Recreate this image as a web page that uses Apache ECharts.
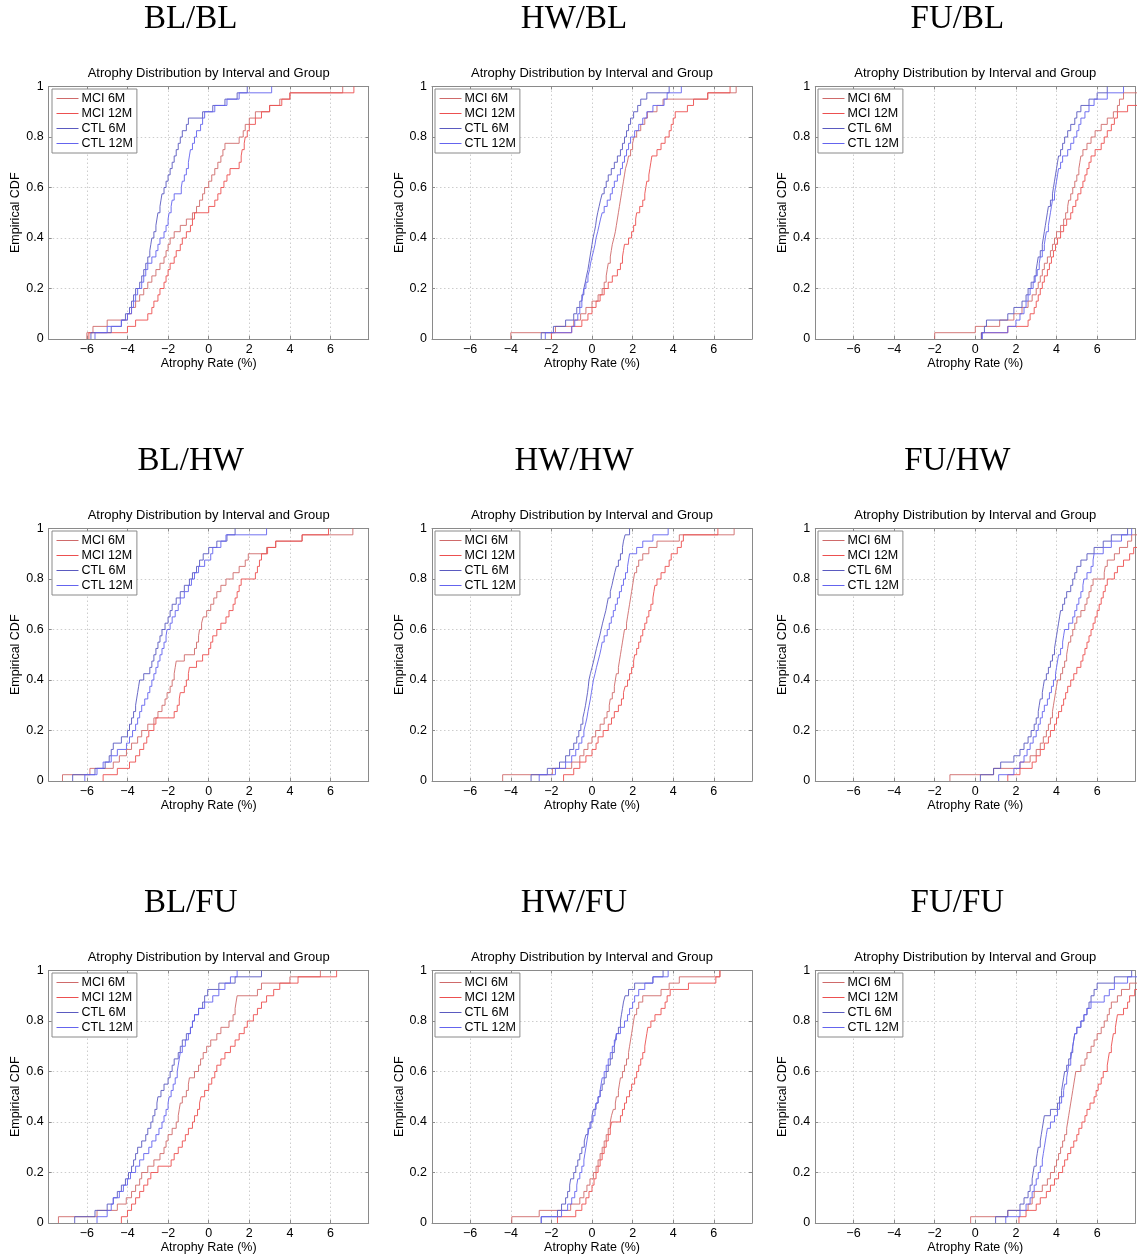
<!DOCTYPE html>
<html>
<head>
<meta charset="utf-8">
<script src="https://cdn.jsdelivr.net/npm/echarts@6/dist/echarts.min.js"></script>
<style>
  html, body { margin: 0; background: #fff; }
  #chart { width: 1139px; height: 1258px; }
</style>
</head>
<body>
<div id="chart"></div>
<script>
const panelTitles = ['BL/BL', 'HW/BL', 'FU/BL', 'BL/HW', 'HW/HW', 'FU/HW', 'BL/FU', 'HW/FU', 'FU/FU']
const seriesNames = ['MCI 6M', 'MCI 12M', 'CTL 6M', 'CTL 12M']
const seriesColors = ['#cf6a6a', '#ec5050', '#5a5ac0', '#6464ee']
const xTicks = [-6, -4, -2, 0, 2, 4, 6]
const xRange = [-7.88, 7.88]

// sorted atrophy rates (%) per group
const blbl_mci6 = [-6.0, -5.7, -5.0, -4.0, -3.8, -3.6, -3.4, -3.2, -3.0, -2.8, -2.6, -2.4, -2.2, -2.1, -2.0, -1.9, -1.7, -1.4, -1.1, -0.8, -0.6, -0.45, -0.3, -0.2, 0.0, 0.15, 0.3, 0.45, 0.6, 0.7, 0.8, 1.5, 1.7, 1.8, 2.0, 2.3, 3.0, 3.5, 4.0, 6.6]
const blbl_mci12 = [-5.9, -4.0, -3.6, -3.0, -2.8, -2.7, -2.5, -2.4, -2.2, -2.1, -2.0, -1.9, -1.7, -1.6, -1.4, -1.3, -1.1, -0.9, -0.8, -0.7, 0.0, 0.3, 0.45, 0.6, 0.75, 0.9, 1.05, 1.5, 1.6, 1.65, 1.75, 1.8, 1.9, 2.0, 2.3, 2.6, 3.0, 3.6, 4.0, 7.15]
const blbl_ctl6 = [-5.8, -4.8, -4.3, -4.1, -3.9, -3.8, -3.7, -3.6, -3.4, -3.3, -3.2, -3.1, -3.0, -2.9, -2.85, -2.8, -2.7, -2.6, -2.55, -2.5, -2.4, -2.35, -2.3, -2.2, -2.1, -2.0, -1.9, -1.8, -1.7, -1.6, -1.5, -1.4, -1.3, -1.1, -1.0, -0.3, 0.2, 0.8, 1.4, 1.9]
const blbl_ctl12 = [-5.6, -5.0, -4.3, -4.0, -3.8, -3.7, -3.6, -3.5, -3.3, -3.2, -3.1, -3.0, -2.8, -2.6, -2.5, -2.4, -2.2, -2.1, -2.0, -1.95, -1.85, -1.8, -1.7, -1.35, -1.3, -1.2, -1.1, -1.0, -0.95, -0.9, -0.8, -0.7, -0.6, -0.4, -0.3, -0.2, 0.3, 0.9, 1.5, 3.1]

const hwbl_mci6 = [-4.0, -1.8, -0.9, -0.56, -0.3, 0.0, 0.3, 0.5, 0.6, 0.7, 0.75, 0.8, 0.9, 0.95, 1.0, 1.08, 1.15, 1.2, 1.25, 1.3, 1.35, 1.4, 1.45, 1.5, 1.55, 1.6, 1.65, 1.74, 1.8, 1.9, 2.0, 2.07, 2.2, 2.4, 2.6, 2.73, 3.2, 3.5, 5.7, 7.1]
const hwbl_mci12 = [-2.0, -1.0, -0.5, -0.2, 0.0, 0.2, 0.4, 0.6, 0.8, 1.0, 1.25, 1.4, 1.5, 1.55, 1.6, 1.8, 1.95, 2.05, 2.15, 2.2, 2.35, 2.5, 2.6, 2.65, 2.7, 2.8, 2.85, 2.9, 2.95, 3.2, 3.4, 3.6, 3.8, 3.9, 4.0, 4.1, 4.7, 5.0, 5.7, 6.8]
const hwbl_ctl6 = [-2.5, -1.9, -1.3, -0.9, -0.75, -0.6, -0.5, -0.4, -0.33, -0.27, -0.2, -0.15, -0.1, -0.05, 0.0, 0.05, 0.12, 0.18, 0.22, 0.28, 0.35, 0.42, 0.5, 0.6, 0.7, 0.8, 0.95, 1.1, 1.25, 1.4, 1.5, 1.6, 1.7, 1.8, 1.9, 2.05, 2.25, 2.4, 2.7, 3.8]
const hwbl_ctl12 = [-2.3, -1.0, -0.85, -0.7, -0.6, -0.5, -0.45, -0.4, -0.3, -0.2, -0.12, -0.07, 0.0, 0.08, 0.15, 0.2, 0.28, 0.35, 0.42, 0.5, 0.6, 0.75, 0.9, 1.0, 1.1, 1.25, 1.4, 1.5, 1.6, 1.7, 1.8, 1.9, 2.1, 2.3, 2.5, 2.7, 3.0, 3.55, 3.7, 4.4]

const fubl_mci6 = [-2.0, 0.0, 1.2, 1.9, 2.3, 2.6, 2.8, 3.0, 3.1, 3.2, 3.3, 3.4, 3.55, 3.7, 3.8, 3.9, 4.0, 4.2, 4.35, 4.45, 4.55, 4.6, 4.7, 4.8, 4.9, 5.0, 5.1, 5.15, 5.2, 5.3, 5.5, 5.7, 5.9, 6.2, 6.5, 6.8, 7.0, 7.1, 7.3, 8.3]
const fubl_mci12 = [0.3, 1.6, 2.6, 2.7, 2.9, 3.0, 3.1, 3.2, 3.3, 3.4, 3.55, 3.65, 3.75, 3.85, 3.95, 4.05, 4.2, 4.35, 4.5, 4.7, 4.8, 4.95, 5.05, 5.2, 5.3, 5.4, 5.5, 5.6, 5.7, 5.9, 6.2, 6.35, 6.5, 6.7, 6.85, 7.0, 7.5, 8.2, 8.6, 9.1]
const fubl_ctl6 = [0.3, 0.45, 0.55, 1.6, 1.9, 2.3, 2.5, 2.6, 2.75, 2.9, 3.0, 3.05, 3.1, 3.2, 3.3, 3.35, 3.4, 3.45, 3.5, 3.55, 3.6, 3.7, 3.8, 3.85, 3.9, 3.95, 4.0, 4.05, 4.1, 4.2, 4.3, 4.4, 4.55, 4.7, 4.9, 5.0, 5.2, 5.6, 6.0, 6.5]
const fubl_ctl12 = [0.35, 1.6, 2.0, 2.2, 2.4, 2.5, 2.6, 2.7, 2.85, 2.95, 3.05, 3.15, 3.2, 3.3, 3.4, 3.45, 3.5, 3.6, 3.65, 3.7, 3.75, 3.8, 3.9, 3.95, 4.0, 4.05, 4.1, 4.2, 4.3, 4.55, 4.7, 4.85, 5.0, 5.1, 5.2, 5.4, 5.6, 5.85, 6.5, 7.3]

const blhw_mci6 = [-7.2, -5.85, -4.7, -4.4, -4.05, -3.8, -3.5, -3.3, -3.0, -2.7, -2.5, -2.3, -2.15, -2.05, -1.9, -1.8, -1.7, -1.65, -1.6, -1.2, -0.7, -0.6, -0.5, -0.45, -0.35, -0.27, -0.1, 0.1, 0.25, 0.4, 0.6, 0.85, 1.2, 1.5, 1.8, 1.95, 2.85, 3.3, 4.6, 7.1]
const blhw_mci12 = [-5.2, -4.5, -3.9, -3.6, -3.4, -3.2, -3.05, -2.95, -2.7, -2.6, -1.7, -1.55, -1.45, -1.4, -1.2, -1.1, -1.0, -0.95, -0.6, -0.3, 0.0, 0.1, 0.2, 0.4, 0.6, 0.85, 1.0, 1.2, 1.3, 1.4, 1.5, 1.6, 2.3, 2.4, 2.5, 2.6, 2.9, 3.3, 4.6, 5.9]
const blhw_ctl6 = [-6.7, -5.6, -5.1, -4.9, -4.8, -4.7, -4.3, -4.0, -3.9, -3.8, -3.7, -3.6, -3.55, -3.5, -3.45, -3.4, -3.2, -2.9, -2.8, -2.7, -2.6, -2.5, -2.4, -2.3, -2.15, -2.0, -1.9, -1.8, -1.6, -1.4, -1.2, -0.95, -0.8, -0.6, -0.45, -0.27, 0.0, 0.4, 0.9, 1.3]
const blhw_ctl12 = [-6.1, -5.5, -5.2, -4.8, -4.5, -4.05, -3.9, -3.75, -3.6, -3.5, -3.4, -3.3, -3.15, -3.0, -2.9, -2.8, -2.7, -2.6, -2.5, -2.4, -2.3, -2.2, -2.1, -2.05, -1.9, -1.8, -1.65, -1.5, -1.4, -1.2, -1.0, -0.85, -0.7, -0.5, -0.2, 0.1, 0.2, 0.6, 0.85, 2.85]

const hwhw_mci6 = [-4.4, -1.95, -1.0, -0.6, -0.4, -0.2, 0.0, 0.18, 0.4, 0.6, 0.74, 0.85, 0.9, 1.0, 1.1, 1.15, 1.2, 1.3, 1.35, 1.4, 1.45, 1.5, 1.55, 1.6, 1.7, 1.75, 1.8, 1.85, 1.9, 1.95, 2.0, 2.05, 2.1, 2.2, 2.3, 2.5, 2.8, 3.2, 4.3, 7.0]
const hwhw_mci12 = [-1.4, -0.9, -0.6, -0.3, 0.0, 0.2, 0.3, 0.55, 0.8, 0.96, 1.1, 1.3, 1.45, 1.55, 1.63, 1.75, 1.85, 1.95, 2.05, 2.1, 2.2, 2.3, 2.4, 2.5, 2.6, 2.7, 2.8, 2.9, 3.0, 3.05, 3.1, 3.2, 3.4, 3.6, 3.8, 3.9, 4.2, 4.4, 4.5, 6.2]
const hwhw_ctl6 = [-3.0, -2.2, -1.6, -1.3, -1.1, -0.9, -0.75, -0.65, -0.55, -0.45, -0.38, -0.32, -0.27, -0.22, -0.18, -0.15, -0.08, 0.0, 0.08, 0.15, 0.22, 0.3, 0.38, 0.45, 0.52, 0.6, 0.68, 0.74, 0.8, 0.9, 0.98, 1.05, 1.12, 1.2, 1.3, 1.4, 1.5, 1.55, 1.63, 1.85]
const hwhw_ctl12 = [-2.6, -1.8, -1.3, -1.0, -0.8, -0.65, -0.5, -0.4, -0.32, -0.25, -0.2, -0.14, -0.08, -0.03, 0.02, 0.07, 0.15, 0.22, 0.3, 0.38, 0.45, 0.5, 0.6, 0.75, 0.85, 0.95, 1.05, 1.15, 1.25, 1.35, 1.45, 1.55, 1.65, 1.75, 1.8, 1.85, 2.2, 2.5, 3.0, 3.75]

const fuhw_mci6 = [-1.25, 0.9, 2.2, 2.7, 3.0, 3.2, 3.35, 3.5, 3.6, 3.7, 3.8, 3.85, 3.9, 3.95, 4.0, 4.05, 4.2, 4.3, 4.4, 4.5, 4.55, 4.6, 4.7, 4.8, 4.9, 5.0, 5.2, 5.4, 5.5, 5.6, 5.7, 5.8, 6.35, 6.4, 6.5, 6.85, 7.1, 7.5, 7.7, 8.4]
const fuhw_mci12 = [1.6, 2.2, 2.8, 3.0, 3.2, 3.4, 3.6, 3.7, 3.9, 4.0, 4.1, 4.25, 4.35, 4.45, 4.55, 4.7, 4.85, 5.0, 5.2, 5.3, 5.4, 5.5, 5.6, 5.7, 5.8, 5.9, 6.0, 6.1, 6.2, 6.3, 6.4, 6.5, 6.85, 7.0, 7.3, 7.6, 7.8, 8.1, 8.5, 9.0]
const fuhw_ctl6 = [0.25, 0.9, 1.25, 1.9, 2.2, 2.4, 2.6, 2.75, 2.9, 3.0, 3.1, 3.15, 3.2, 3.3, 3.35, 3.4, 3.5, 3.6, 3.7, 3.8, 3.9, 3.95, 4.0, 4.05, 4.1, 4.15, 4.2, 4.3, 4.4, 4.5, 4.7, 4.8, 4.9, 5.0, 5.2, 5.5, 5.85, 6.3, 6.7, 7.5]
const fuhw_ctl12 = [1.15, 1.9, 2.2, 2.4, 2.55, 2.7, 2.85, 3.0, 3.1, 3.2, 3.3, 3.4, 3.55, 3.65, 3.75, 3.85, 3.95, 4.0, 4.05, 4.1, 4.2, 4.3, 4.35, 4.4, 4.6, 4.8, 4.9, 5.0, 5.1, 5.2, 5.3, 5.35, 5.5, 5.7, 5.8, 5.85, 6.3, 6.7, 7.2, 7.7]

const blfu_mci6 = [-7.4, -5.5, -4.5, -4.06, -3.8, -3.6, -3.4, -3.3, -3.0, -2.7, -2.4, -2.2, -2.1, -2.0, -1.8, -1.6, -1.5, -1.45, -1.4, -1.3, -1.1, -1.0, -0.95, -0.7, -0.5, -0.4, -0.27, -0.1, 0.1, 0.4, 0.6, 1.0, 1.2, 1.3, 1.35, 1.4, 2.4, 2.6, 4.0, 5.5]
const blfu_mci12 = [-4.3, -4.0, -3.8, -3.6, -3.4, -3.2, -3.0, -2.85, -2.5, -1.85, -1.7, -1.5, -1.3, -1.15, -1.0, -0.8, -0.7, -0.55, -0.45, -0.38, -0.2, 0.0, 0.15, 0.3, 0.4, 0.6, 0.8, 1.07, 1.3, 1.5, 1.75, 1.9, 2.2, 2.4, 2.6, 2.85, 3.2, 3.5, 4.4, 6.3]
const blfu_ctl6 = [-6.6, -5.6, -5.0, -4.7, -4.5, -4.3, -4.1, -3.95, -3.8, -3.7, -3.6, -3.5, -3.3, -3.1, -3.0, -2.85, -2.75, -2.65, -2.55, -2.5, -2.35, -2.2, -2.0, -1.9, -1.8, -1.7, -1.5, -1.4, -1.3, -1.1, -0.9, -0.8, -0.7, -0.5, -0.3, -0.2, -0.05, 0.5, 1.3, 2.6]
const blfu_ctl12 = [-5.5, -5.0, -4.8, -4.7, -4.4, -4.2, -4.0, -3.85, -3.6, -3.4, -3.2, -2.95, -2.8, -2.6, -2.45, -2.3, -2.2, -2.1, -2.0, -1.95, -1.85, -1.75, -1.65, -1.55, -1.5, -1.45, -1.4, -1.3, -1.15, -1.0, -0.9, -0.8, -0.7, -0.5, -0.2, 0.2, 0.5, 0.8, 1.07, 1.4]

const hwfu_mci6 = [-3.95, -2.6, -1.05, -0.6, -0.4, -0.25, -0.1, 0.07, 0.2, 0.3, 0.4, 0.5, 0.6, 0.7, 0.8, 0.9, 0.96, 1.05, 1.15, 1.2, 1.3, 1.35, 1.4, 1.5, 1.6, 1.7, 1.8, 1.85, 1.9, 1.95, 2.0, 2.05, 2.1, 2.2, 2.3, 2.5, 3.4, 3.8, 4.3, 6.3]
const hwfu_mci12 = [-1.7, -0.8, -0.5, -0.3, -0.15, 0.0, 0.1, 0.2, 0.3, 0.4, 0.5, 0.6, 0.7, 0.8, 0.9, 0.96, 1.4, 1.5, 1.6, 1.7, 1.85, 1.95, 2.1, 2.2, 2.3, 2.4, 2.5, 2.6, 2.65, 2.7, 2.75, 2.9, 3.1, 3.4, 3.6, 3.7, 3.85, 4.75, 6.1, 6.3]
const hwfu_ctl6 = [-2.5, -1.7, -1.5, -1.3, -1.2, -1.1, -1.05, -0.9, -0.8, -0.7, -0.6, -0.5, -0.38, -0.3, -0.2, -0.1, 0.0, 0.07, 0.2, 0.3, 0.4, 0.5, 0.6, 0.7, 0.8, 0.9, 1.0, 1.1, 1.15, 1.2, 1.3, 1.4, 1.45, 1.5, 1.55, 1.63, 1.8, 2.1, 3.0, 3.5]
const hwfu_ctl12 = [-2.5, -1.5, -1.2, -1.0, -0.85, -0.75, -0.7, -0.6, -0.5, -0.4, -0.35, -0.3, -0.25, -0.2, -0.15, -0.05, 0.05, 0.15, 0.2, 0.3, 0.4, 0.45, 0.5, 0.6, 0.7, 0.8, 0.9, 1.0, 1.1, 1.2, 1.4, 1.6, 1.75, 1.85, 2.0, 2.1, 2.3, 2.6, 3.0, 3.75]

const fufu_mci6 = [-0.23, 1.6, 2.6, 2.8, 2.9, 3.3, 3.55, 3.7, 3.9, 4.0, 4.1, 4.2, 4.3, 4.4, 4.5, 4.55, 4.6, 4.65, 4.7, 4.75, 4.8, 4.85, 4.9, 4.95, 5.2, 5.4, 5.5, 5.7, 5.85, 6.0, 6.2, 6.35, 6.5, 6.6, 6.7, 7.0, 7.2, 7.6, 8.1, 8.7]
const fufu_mci12 = [2.15, 2.5, 3.0, 3.2, 3.5, 3.7, 3.9, 4.1, 4.3, 4.4, 4.55, 4.7, 4.85, 5.0, 5.1, 5.25, 5.4, 5.5, 5.65, 5.85, 5.95, 6.05, 6.2, 6.3, 6.5, 6.55, 6.6, 6.7, 6.75, 6.8, 6.9, 6.95, 7.0, 7.3, 7.5, 7.6, 7.85, 8.2, 8.6, 9.2]
const fufu_ctl6 = [1.0, 1.6, 2.2, 2.4, 2.6, 2.7, 2.8, 2.85, 2.9, 3.0, 3.05, 3.1, 3.2, 3.25, 3.3, 3.35, 3.4, 3.7, 4.05, 4.15, 4.25, 4.3, 4.35, 4.4, 4.5, 4.6, 4.7, 4.8, 4.85, 4.9, 5.0, 5.2, 5.35, 5.5, 5.6, 5.7, 5.85, 6.0, 6.85, 7.7]
const fufu_ctl12 = [1.5, 2.2, 2.5, 2.7, 2.8, 2.9, 3.0, 3.1, 3.2, 3.3, 3.35, 3.4, 3.45, 3.5, 3.55, 3.7, 3.9, 4.05, 4.15, 4.25, 4.35, 4.4, 4.5, 4.55, 4.6, 4.7, 4.75, 4.8, 4.85, 4.9, 5.0, 5.2, 5.35, 5.5, 5.7, 6.35, 6.6, 6.85, 7.5, 8.1]

const panelData = [
  [blbl_mci6, blbl_mci12, blbl_ctl6, blbl_ctl12],
  [hwbl_mci6, hwbl_mci12, hwbl_ctl6, hwbl_ctl12],
  [fubl_mci6, fubl_mci12, fubl_ctl6, fubl_ctl12],
  [blhw_mci6, blhw_mci12, blhw_ctl6, blhw_ctl12],
  [hwhw_mci6, hwhw_mci12, hwhw_ctl6, hwhw_ctl12],
  [fuhw_mci6, fuhw_mci12, fuhw_ctl6, fuhw_ctl12],
  [blfu_mci6, blfu_mci12, blfu_ctl6, blfu_ctl12],
  [hwfu_mci6, hwfu_mci12, hwfu_ctl6, hwfu_ctl12],
  [fufu_mci6, fufu_mci12, fufu_ctl6, fufu_ctl12]
]

const SANS = 'Liberation Sans, Arial, sans-serif'
const SERIF = 'Liberation Serif, Times New Roman, serif'
const boxColor = '#8a8a8a'

// empirical cdf: step up 1/n at every sorted value
function ecdf(vals) {
  const n = vals.length
  const pts = [[vals[0], 0]]
  vals.forEach((v, i) => pts.push([v, (i + 1) / n]))
  return pts
}

const fmtX = v => (v < 0 ? '\u2212' + (-v) : String(v))
const fmtY = v => (v === 0 ? '0' : v === 1 ? '1' : v.toFixed(1))

// legend entries carry their own line colour
const legendItems = seriesNames.map((name, i) => ({
  name: name,
  lineStyle: { color: seriesColors[i], width: 1, opacity: 1 },
  itemStyle: { color: seriesColors[i], opacity: 0 }
}))

const grids = []
const xAxes = []
const yAxes = []
const series = []
const legends = []
const graphics = []

panelTitles.forEach((title, p) => {
  const col = p % 3
  const row = Math.floor(p / 3)
  const left = 48.7 + 383.3 * col
  const top = 86.5 + 442 * row
  const w = 320
  const h = 252.5
  grids.push({ left: left, top: top, width: w, height: h, containLabel: false })

  xAxes.push({
    gridIndex: p, type: 'value', position: 'bottom', min: xRange[0], max: xRange[1],
    name: 'Atrophy Rate (%)', nameLocation: 'middle', nameGap: 17,
    nameTextStyle: { fontSize: 12.5, color: '#000', fontFamily: SANS },
    axisLine: { show: true, onZero: false, lineStyle: { color: boxColor, width: 1 } },
    axisTick: { show: true, inside: true, length: 3, customValues: xTicks, lineStyle: { color: boxColor } },
    axisLabel: { show: true, customValues: xTicks, formatter: fmtX, margin: 4, fontSize: 12.5, color: '#000', fontFamily: SANS },
    splitLine: { show: true, lineStyle: { color: '#cdcdcd', type: [1.5, 2.5], width: 1 } }
  })
  xAxes.push({
    gridIndex: p, type: 'value', position: 'top', min: xRange[0], max: xRange[1],
    axisLine: { show: true, onZero: false, lineStyle: { color: boxColor, width: 1 } },
    axisTick: { show: true, inside: true, length: 3, customValues: xTicks, lineStyle: { color: boxColor } },
    axisLabel: { show: false },
    splitLine: { show: false }
  })
  yAxes.push({
    gridIndex: p, type: 'value', position: 'left', min: 0, max: 1, interval: 0.2,
    name: 'Empirical CDF', nameLocation: 'middle', nameGap: 23,
    nameTextStyle: { fontSize: 12.5, color: '#000', fontFamily: SANS },
    axisLine: { show: true, onZero: false, lineStyle: { color: boxColor, width: 1 } },
    axisTick: { show: true, inside: true, length: 3, lineStyle: { color: boxColor } },
    axisLabel: { show: true, formatter: fmtY, margin: 5, fontSize: 12.5, color: '#000', fontFamily: SANS },
    splitLine: { show: true, lineStyle: { color: '#cdcdcd', type: [1.5, 2.5], width: 1 } }
  })
  yAxes.push({
    gridIndex: p, type: 'value', position: 'right', min: 0, max: 1, interval: 0.2,
    axisLine: { show: true, onZero: false, lineStyle: { color: boxColor, width: 1 } },
    axisTick: { show: true, inside: true, length: 3, lineStyle: { color: boxColor } },
    axisLabel: { show: false },
    splitLine: { show: false }
  })

  panelData[p].forEach((vals, s) => {
    series.push({
      type: 'line',
      name: seriesNames[s],
      xAxisIndex: 2 * p,
      yAxisIndex: 2 * p,
      data: ecdf(vals),
      step: 'end',
      symbol: 'none',
      color: seriesColors[s],
      lineStyle: { color: seriesColors[s], width: 1, opacity: 0.9 },
      silent: true,
      animation: false,
      clip: true
    })
  })

  legends.push({
    left: Math.round(left + 3), top: Math.round(top + 2.5), orient: 'vertical',
    data: legendItems,
    itemWidth: 22, itemHeight: 10, itemGap: 2,
    padding: [3, 4, 3, 4],
    borderColor: boxColor, borderWidth: 1, borderRadius: 0,
    backgroundColor: '#fff',
    selectedMode: false,
    textStyle: { fontSize: 12.5, lineHeight: 13, color: '#000', fontFamily: SANS, padding: [0, 0, 0, -2] }
  })

  // panel heading and axes title
  graphics.push({
    type: 'text', x: left + 142, y: 19.5 + 442 * row,
    style: { text: title, fontSize: 33, fontFamily: SERIF, fill: '#000', textAlign: 'center', textVerticalAlign: 'middle' }
  })
  graphics.push({
    type: 'text', x: left + w / 2, y: 73 + 442 * row,
    style: { text: 'Atrophy Distribution by Interval and Group', fontSize: 13, fontFamily: SANS, fill: '#000', textAlign: 'center', textVerticalAlign: 'middle' }
  })
})

const chart = echarts.init(document.getElementById('chart'), null, { renderer: 'canvas' })
chart.setOption({
  backgroundColor: '#fff',
  animation: false,
  textStyle: { fontFamily: SANS },
  grid: grids,
  xAxis: xAxes,
  yAxis: yAxes,
  legend: legends,
  graphic: graphics,
  series: series
})
</script>
</body>
</html>
